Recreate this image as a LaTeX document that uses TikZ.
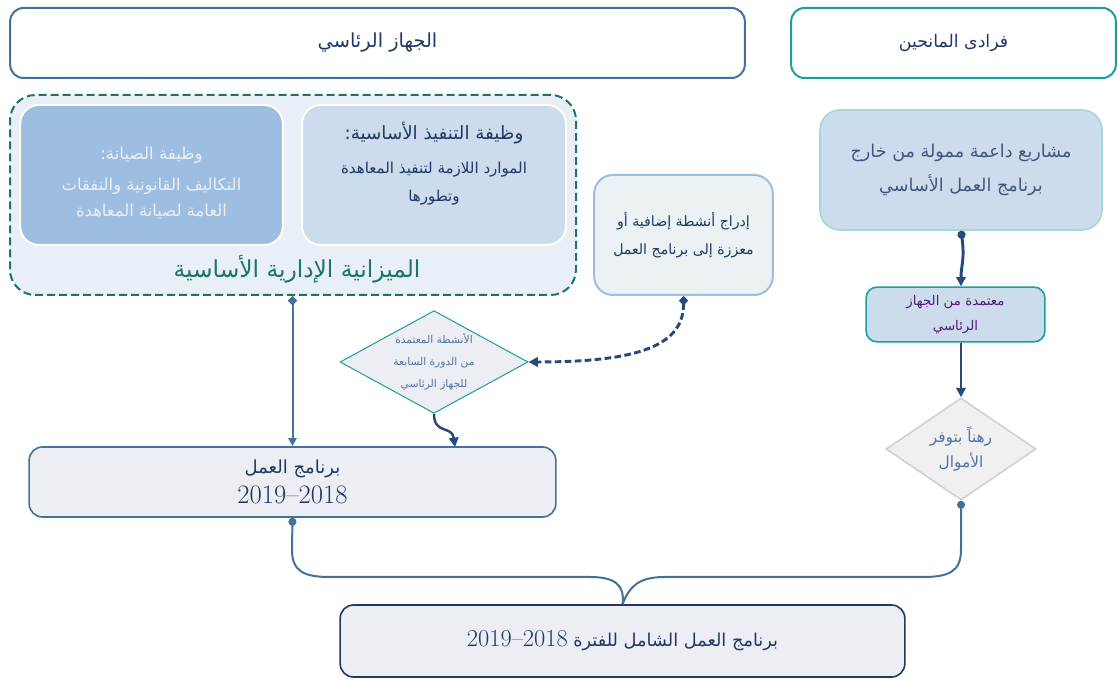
\documentclass[tikz,border=0pt]{standalone}
\usepackage{fontspec}
\newfontfamily\arabicfont[Script=Arabic]{DejaVu Sans}
\TeXXeTstate=1
\usetikzlibrary{shapes.geometric,arrows.meta}

\definecolor{navytext}{HTML}{1F3864}
\definecolor{boxblue}{HTML}{41719C}
\definecolor{tealline}{HTML}{1A9E9E}
\definecolor{darkteal}{HTML}{1B7568}
\definecolor{groupfill}{HTML}{E9EFF7}
\definecolor{midblue}{HTML}{9DBEE0}
\definecolor{paleblue}{HTML}{CDDCEC}
\definecolor{greyfill}{HTML}{EDEEF3}
\definecolor{mistfill}{HTML}{ECF1F3}
\definecolor{linkblue}{HTML}{24497A}
\definecolor{softtext}{HTML}{4F73A6}

\newcommand{\arline}[1]{\beginR #1\endR}
\newcommand{\arsize}[2]{\arabicfont\fontsize{#1}{#2}\selectfont}
\newcommand{\yearspan}[1]{{\normalfont\fontsize{#1}{#1}\selectfont 2019--2018}}

\tikzset{every picture/.style={line width=0.75pt}}
\tikzset{
	roundbox/.style={rectangle, rounded corners=10pt, align=center, inner sep=2pt, text=navytext},
	choice/.style={diamond, align=center, inner sep=0pt, aspect=1.8},
	link/.style={draw=linkblue, line width=2.2pt, -{Triangle[length=7pt,width=7pt]}},
	thinlink/.style={draw=boxblue, line width=1.5pt, -{Triangle[length=6pt,width=6pt]}}}

\begin{document}
\begin{tikzpicture}[x=0.75pt,y=0.75pt,yscale=-1,xscale=1]
	\useasboundingbox (0,0) rectangle (1118,680);

	%Shape: Rounded Rect (top row)
	\node[roundbox, draw=boxblue, line width=1.5pt, minimum width=551pt, minimum height=52.5pt, font=\arsize{14.5}{18}] (pres) at (377.5,43) {\arline{الجهاز الرئاسي}};
	\node[roundbox, draw=tealline, line width=1.5pt, minimum width=243.5pt, minimum height=52.5pt, font=\arsize{13}{18}] (donors) at (953.5,43) {\arline{فرادى المانحين}};

	%Shape: Rounded Rect (core budget group)
	\node[roundbox, draw=darkteal, fill=groupfill, line width=1.5pt, dash pattern={on 6pt off 3pt}, rounded corners=19pt, minimum width=424.5pt, minimum height=150pt] (group) at (293,195) {};
	\node[roundbox, draw=white, fill=midblue, line width=1.5pt, rounded corners=14pt, minimum width=197pt, minimum height=105pt, text=groupfill, font=\arsize{12.3}{19.5}] (maint) at (151.5,175)
		{{\arsize{12.5}{19.5}\rule{0pt}{21pt}\arline{وظيفة الصيانة:}}\\[4pt] \arline{التكاليف القانونية والنفقات}\\ \arline{العامة لصيانة المعاهدة}};
	\node[roundbox, draw=white, fill=paleblue, line width=1.5pt, rounded corners=14pt, minimum width=198pt, minimum height=105pt, font=\arsize{11.3}{21}] (impl) at (434,175)
		{{\arsize{13.7}{21}\arline{وظيفة التنفيذ الأساسية:}}\\[4pt] \arline{الموارد اللازمة لتنفيذ المعاهدة}\\ \arline{وتطورها}\rule[-20pt]{0pt}{1pt}};
	% Text Node
	\node[text=darkteal, font=\arsize{17.5}{22}] (budget) at (297,269) {\arline{الميزانية الإدارية الأساسية}};

	%Shape: Rounded Rect (extra activities)
	\node[roundbox, draw=midblue, fill=mistfill, line width=1.5pt, rounded corners=14pt, minimum width=134pt, minimum height=90pt, font=\arsize{10.6}{21}] (extra) at (683.5,235)
		{\arline{إدراج أنشطة إضافية أو}\\ \arline{معززة إلى برنامج العمل}};

	%Shape: Diamond (approved activities)
	\node[choice, draw=tealline, fill=greyfill, minimum width=141pt, minimum height=77pt, text=softtext, font=\arsize{8}{16.5}] (approved) at (434,362)
		{\arline{الأنشطة المعتمدة}\\ \arline{من الدورة السابعة}\\ \arline{للجهاز الرئاسي}};

	%Shape: Rounded Rect (work programme)
	\node[roundbox, draw=boxblue, fill=greyfill, line width=1.2pt, minimum width=395pt, minimum height=52.5pt, font=\arsize{13.5}{19}] (workprog) at (292.5,482)
		{\arline{برنامج العمل}\\[3.5pt] \yearspan{20}};
	\coordinate (wpin) at (455,447);

	%Shape: Rounded Rect (right column)
	\node[roundbox, draw=tealline!40, fill=paleblue, line width=1.2pt, rounded corners=15pt, minimum width=211.5pt, minimum height=90pt, text=navytext!85, font=\arsize{13.2}{25}] (outside) at (961,170)
		{\arline{مشاريع داعمة ممولة من خارج}\\ \arline{برنامج العمل الأساسي}};
	\node[roundbox, draw=tealline, fill=paleblue, line width=1.2pt, rounded corners=8pt, minimum width=134pt, minimum height=41pt, text=violet!55!navytext, font=\arsize{10}{18.5}] (endorsed) at (955.5,314.5)
		{\arline{معتمدة من الجهاز}\\ \arline{الرئاسي}};
	\node[choice, draw=black!18, fill=black!6, line width=1.2pt, minimum width=112.5pt, minimum height=76.5pt, text=softtext, font=\arsize{11.5}{19}] (funds) at (961,449)
		{\arline{رهناً بتوفر}\\ \arline{الأموال}};

	%Shape: Rounded Rect (overall programme)
	\node[roundbox, draw=navytext, fill=greyfill, line width=1.2pt, minimum width=423.5pt, minimum height=54pt, font=\arsize{13.3}{18}] (overall) at (622.5,641)
		{\arline{برنامج العمل الشامل للفترة \beginL\yearspan{18.3}\endL}};

	%Straight Lines
	\draw[thinlink, {Diamond[length=7pt,width=7pt]}-{Triangle[length=6pt,width=6pt]}] (group.south -| workprog.north) -- (workprog.north);
	%Curve Lines
	\draw[link, dash pattern={on 5pt off 2.5pt}, {Diamond[length=7pt,width=7pt]}-{Triangle[length=7pt,width=7pt]}] (extra.south) .. controls (684,345) and (640,362) .. (approved.east);
	\draw[link, line width=1.8pt] (approved.south) .. controls (434,435) and (452,425) .. (wpin);
	\draw[link, {Circle[length=6pt]}-{Triangle[length=7pt,width=7pt]}] (outside.south) .. controls (965,260) and (961,265) .. (outside.south |- endorsed.north);
	\draw[link] (funds.north |- endorsed.south) -- (funds.north);

	%Curve Lines (brace)
	\draw[draw=boxblue, line width=1.5pt, {Circle[length=6pt]}-] (workprog.south) -- (292,550) .. controls (292,572) and (305,577) .. (330,577) -- (590,577) .. controls (615,577) and (625,585) .. (overall.north);
	\draw[draw=boxblue, line width=1.5pt, {Circle[length=6pt]}-] (funds.south) -- (961,550) .. controls (961,572) and (948,577) .. (923,577) -- (665,577) .. controls (640,577) and (630,585) .. (overall.north);

\end{tikzpicture}
\end{document}
